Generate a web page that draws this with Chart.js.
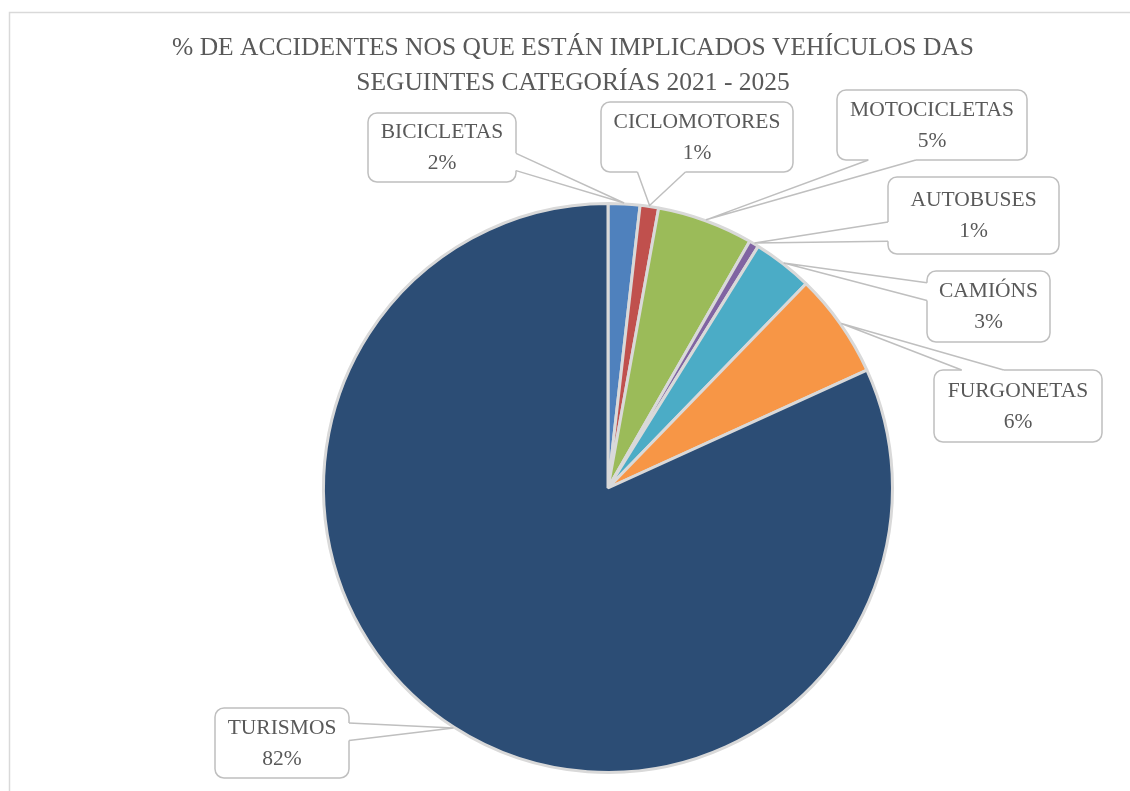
<!DOCTYPE html>
<html>
<head>
<meta charset="utf-8">
<script src="https://cdn.jsdelivr.net/npm/chart.js@4/dist/chart.umd.min.js"></script>
<style>
    html, body { margin: 0; padding: 0; background: #FFFFFF; }
    #wrap { width: 1130px; height: 791px; position: relative; }
</style>
</head>
<body>
<div id="wrap"><canvas id="pieChart"></canvas></div>
<script>
// Data
const titleLines = [
    '% DE ACCIDENTES NOS QUE ESTÁN IMPLICADOS VEHÍCULOS DAS',
    'SEGUINTES CATEGORÍAS 2021 - 2025'
];
const categories = ['BICICLETAS', 'CICLOMOTORES', 'MOTOCICLETAS', 'AUTOBUSES', 'CAMIÓNS', 'FURGONETAS', 'TURISMOS'];
const shares = [1.8, 1.05, 5.45, 0.55, 3.4, 5.95, 81.8];

// Styling
const sliceColors = ['#4F81BD', '#C0504D', '#9BBB59', '#8064A2', '#4BACC6', '#F79646', '#2C4D75'];
const textColor = '#595959';
const fontFamily = '"Liberation Serif", "DejaVu Serif", serif';

// Callout box placement (x, y, w, h) for each category label
const calloutBoxes = [
    [368, 113, 148, 69],
    [601, 102, 192, 70],
    [837, 90, 190, 70],
    [888, 177, 171, 77],
    [927, 271, 123, 71],
    [934, 370, 168, 72],
    [215, 708, 134, 70]
];

function roundRectPath(ctx, x, y, w, h, r) {
    ctx.beginPath();
    ctx.moveTo(x + r, y);
    ctx.lineTo(x + w - r, y);
    ctx.arcTo(x + w, y, x + w, y + r, r);
    ctx.lineTo(x + w, y + h - r);
    ctx.arcTo(x + w, y + h, x + w - r, y + h, r);
    ctx.lineTo(x + r, y + h);
    ctx.arcTo(x, y + h, x, y + h - r, r);
    ctx.lineTo(x, y + r);
    ctx.arcTo(x, y, x + r, y, r);
    ctx.closePath();
}

// Frame and title, drawn under the pie
const framePlugin = {
    id: 'framePlugin',
    beforeDraw(chart) {
        const ctx = chart.ctx;
        ctx.save();
        ctx.strokeStyle = '#D9D9D9';
        ctx.lineWidth = 1.5;
        ctx.beginPath();
        ctx.moveTo(9.5, chart.height + 5);
        ctx.lineTo(9.5, 12.5);
        ctx.lineTo(chart.width + 5, 12.5);
        ctx.stroke();

        ctx.fillStyle = textColor;
        ctx.font = '25.5px ' + fontFamily;
        ctx.textAlign = 'center';
        ctx.textBaseline = 'middle';
        titleLines.forEach((line, i) => {
            ctx.fillText(line, 573, 48 + i * 35);
        });
        ctx.restore();
    }
};

// Excel-style callout labels pointing at each slice
const calloutPlugin = {
    id: 'calloutPlugin',
    afterDraw(chart) {
        const ctx = chart.ctx;
        const meta = chart.getDatasetMeta(0);
        const values = chart.data.datasets[0].data;
        const total = values.reduce((a, b) => a + b, 0);

        ctx.save();
        meta.data.forEach((arc, i) => {
            const box = calloutBoxes[i];
            if (!box) return;
            const [bx, by, bw, bh] = box;
            const mid = (arc.startAngle + arc.endAngle) / 2;
            const rr = arc.outerRadius + 1;
            const ax = arc.x + Math.cos(mid) * rr;
            const ay = arc.y + Math.sin(mid) * rr;

            const cx = bx + bw / 2, cy = by + bh / 2;
            const nx = (ax - cx) / (bw / 2), ny = (ay - cy) / (bh / 2);
            let p1, p2, q1, q2;
            if (Math.abs(nx) > Math.abs(ny)) {
                // left or right side
                const ex = nx < 0 ? bx : bx + bw;
                const inset = nx < 0 ? 2 : -2;
                const lim = 0.21 * bh;
                const c = cy + Math.max(-lim, Math.min(lim, (ay - cy) * 0.75));
                const hw = 0.125 * bh;
                p1 = [ex, c - hw]; p2 = [ex, c + hw];
                q1 = [ex + inset, c - hw]; q2 = [ex + inset, c + hw];
            } else {
                // top or bottom side
                const ey = ny < 0 ? by : by + bh;
                const inset = ny < 0 ? 2 : -2;
                const lim = 0.21 * bw;
                const c = cx + Math.max(-lim, Math.min(lim, (ax - cx) * 0.75));
                const hw = 0.125 * bw;
                p1 = [c - hw, ey]; p2 = [c + hw, ey];
                q1 = [c - hw, ey + inset]; q2 = [c + hw, ey + inset];
            }

            // box
            roundRectPath(ctx, bx, by, bw, bh, 9);
            ctx.fillStyle = '#FFFFFF';
            ctx.fill();
            ctx.strokeStyle = '#BFBFBF';
            ctx.lineWidth = 1.5;
            ctx.stroke();

            // wedge: cover the border under its base, then stroke the two sides
            ctx.beginPath();
            ctx.moveTo(q1[0], q1[1]);
            ctx.lineTo(p1[0], p1[1]);
            ctx.lineTo(ax, ay);
            ctx.lineTo(p2[0], p2[1]);
            ctx.lineTo(q2[0], q2[1]);
            ctx.closePath();
            ctx.fill();
            ctx.beginPath();
            ctx.moveTo(p1[0], p1[1]);
            ctx.lineTo(ax, ay);
            ctx.lineTo(p2[0], p2[1]);
            ctx.stroke();

            // text
            ctx.fillStyle = textColor;
            ctx.font = '21.5px ' + fontFamily;
            ctx.textAlign = 'center';
            ctx.textBaseline = 'middle';
            const pct = Math.round(values[i] / total * 100) + '%';
            ctx.fillText(chart.data.labels[i], cx, cy - 15);
            ctx.fillText(pct, cx, cy + 16);
        });
        ctx.restore();
    }
};

new Chart(document.getElementById('pieChart'), {
    type: 'pie',
    data: {
        labels: categories,
        datasets: [{
            data: shares,
            backgroundColor: sliceColors,
            borderColor: '#D9D9D9',
            borderWidth: 3
        }]
    },
    options: {
        responsive: true,
        maintainAspectRatio: false,
        animation: false,
        layout: {
            padding: { left: 322, right: 236, top: 202, bottom: 17 }
        },
        plugins: {
            legend: { display: false },
            title: { display: false },
            tooltip: { enabled: false }
        }
    },
    plugins: [framePlugin, calloutPlugin]
});
</script>
</body>
</html>
